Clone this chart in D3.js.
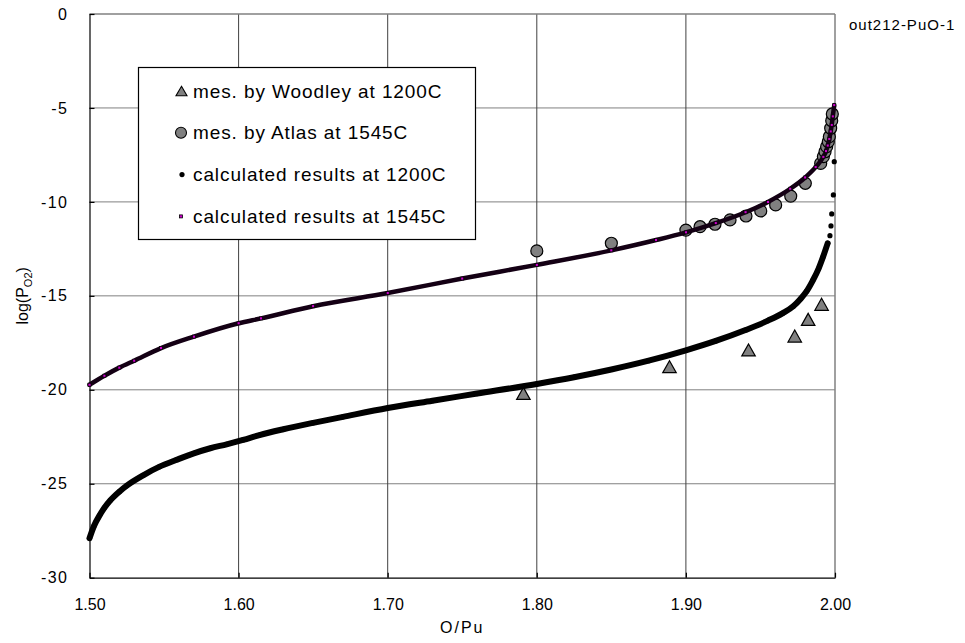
<!DOCTYPE html>
<html>
<head>
<meta charset="utf-8">
<script src="https://cdn.jsdelivr.net/npm/d3@7"></script>
<style>
  html, body { margin: 0; padding: 0; background: #fff; }
  svg { display: block; font-family: Arial, "Liberation Sans", sans-serif; }
</style>
</head>
<body>
<svg id="chart" width="965" height="643"></svg>
<script>
// Axis ticks
const xTicks = [1.50, 1.60, 1.70, 1.80, 1.90, 2.00];
const yTicks = [0, -5, -10, -15, -20, -25, -30];

// Measurements: [O/Pu, log(PO2)]
const woodley1200 = [
  [1.791, -20.19], [1.889, -18.77], [1.942, -17.88],
  [1.973, -17.14], [1.982, -16.25], [1.991, -15.45]
];
const atlas1545 = [
  [1.800, -12.61], [1.850, -12.20], [1.900, -11.50], [1.9095, -11.32],
  [1.9195, -11.19], [1.9296, -10.96], [1.9403, -10.75], [1.9502, -10.48],
  [1.9602, -10.16], [1.9703, -9.69], [1.9801, -9.01], [1.9904, -7.95],
  [1.9922, -7.59], [1.9933, -7.33], [1.9944, -7.06], [1.9955, -6.80],
  [1.9962, -6.53], [1.9971, -6.08], [1.9978, -5.68], [1.9982, -5.32]
];

// Calculated results
const calc1200 = [
  [1.500, -27.90], [1.503, -27.25], [1.507, -26.65], [1.510, -26.28],
  [1.514, -25.88], [1.520, -25.42], [1.525, -25.10], [1.536, -24.55],
  [1.547, -24.09], [1.558, -23.74], [1.570, -23.38], [1.581, -23.11],
  [1.592, -22.90], [1.603, -22.67], [1.614, -22.41], [1.630, -22.10],
  [1.650, -21.76], [1.670, -21.44], [1.700, -20.97], [1.730, -20.58],
  [1.760, -20.20], [1.800, -19.69], [1.825, -19.33], [1.850, -18.92],
  [1.875, -18.45], [1.900, -17.90], [1.920, -17.40], [1.940, -16.82],
  [1.955, -16.32], [1.965, -15.92], [1.972, -15.55], [1.977, -15.15],
  [1.981, -14.75], [1.985, -14.20], [1.989, -13.55], [1.992, -12.92],
  [1.9951, -12.20], [1.9966, -11.80], [1.9973, -11.28], [1.9978, -10.64],
  [1.9989, -9.63], [1.9995, -7.86]
];
const calc1545 = [
  [1.500, -19.73], [1.510, -19.25], [1.520, -18.82], [1.530, -18.45],
  [1.548, -17.78], [1.570, -17.17], [1.600, -16.46], [1.615, -16.20],
  [1.650, -15.55], [1.700, -14.85], [1.750, -14.08], [1.800, -13.35],
  [1.850, -12.58], [1.880, -12.03], [1.900, -11.62], [1.920, -11.13],
  [1.940, -10.55], [1.955, -10.00], [1.970, -9.30], [1.980, -8.70],
  [1.987, -8.15], [1.9922, -7.60], [1.994, -7.30], [1.9951, -7.00],
  [1.9962, -6.65], [1.9971, -6.25], [1.9978, -5.90], [1.9985, -5.45],
  [1.9995, -4.85]
];

const legendItems = [
  { label: "mes. by Woodley at 1200C", kind: "triangle" },
  { label: "mes. by Atlas at 1545C", kind: "circle" },
  { label: "calculated results at 1200C", kind: "dot" },
  { label: "calculated results at 1545C", kind: "square" }
];

const svg = d3.select("#chart");
const plotLeft = 89.5, plotRight = 835, plotTop = 14, plotBottom = 577.7;

const x = d3.scaleLinear().domain([1.5, 2.0]).range([plotLeft, plotRight]);
const y = d3.scaleLinear().domain([0, -30]).range([plotTop, plotBottom]);

// Grid lines
const grid = svg.append("g");
grid.selectAll("line.h")
  .data(yTicks.filter(v => v !== 0 && v !== -30))
  .join("line")
  .attr("x1", plotLeft).attr("x2", plotRight)
  .attr("y1", d => y(d)).attr("y2", d => y(d))
  .attr("stroke", "#808080").attr("stroke-width", 1);
grid.selectAll("line.v")
  .data(xTicks.slice(1, -1))
  .join("line")
  .attr("x1", d => x(d)).attr("x2", d => x(d))
  .attr("y1", plotTop).attr("y2", plotBottom)
  .attr("stroke", "#404040").attr("stroke-width", 1);

// Plot frame: top and right in gray
svg.append("line").attr("x1", plotLeft).attr("x2", plotRight).attr("y1", plotTop).attr("y2", plotTop)
  .attr("stroke", "#808080").attr("stroke-width", 1.5);
svg.append("line").attr("x1", plotRight).attr("x2", plotRight).attr("y1", plotTop).attr("y2", plotBottom)
  .attr("stroke", "#808080").attr("stroke-width", 1.5);

// Axes
const yAxis = d3.axisLeft(y).tickValues(yTicks).tickFormat(d => String(d))
  .tickSizeInner(-5).tickSizeOuter(0).tickPadding(21);
const xAxis = d3.axisBottom(x).tickValues(xTicks).tickFormat(d3.format(".2f"))
  .tickSizeInner(-5).tickSizeOuter(0).tickPadding(21);

const gy = svg.append("g").attr("transform", `translate(${plotLeft},0)`).call(yAxis);
const gx = svg.append("g").attr("transform", `translate(0,${plotBottom})`).call(xAxis);
[gx, gy].forEach(g => {
  g.select(".domain").attr("stroke", "#000").attr("stroke-width", 1.2);
  g.selectAll(".tick line").attr("stroke", "#000").attr("stroke-width", 1.2);
  g.selectAll(".tick text").attr("fill", "#000").attr("font-size", 16)
    .attr("font-family", "Arial, 'Liberation Sans', sans-serif");
});
gy.selectAll(".tick text").attr("letter-spacing", 1.5);

// Axis titles
svg.append("text")
  .attr("x", (plotLeft + plotRight) / 2).attr("y", 633)
  .attr("text-anchor", "middle").attr("font-size", 16).attr("letter-spacing", 2)
  .text("O/Pu");

const yTitle = svg.append("text")
  .attr("transform", `translate(28,${(plotTop + plotBottom) / 2}) rotate(-90)`)
  .attr("text-anchor", "middle").attr("font-size", 16);
yTitle.append("tspan").text("log(P");
yTitle.append("tspan").attr("font-size", 11).attr("dy", 4).text("O2");
yTitle.append("tspan").attr("dy", -4).text(")");

svg.append("text")
  .attr("x", 849).attr("y", 29.5)
  .attr("font-size", 15).attr("letter-spacing", 1)
  .text("out212-PuO-1");

// Marker shapes
function triPath(w, h) {
  return `M0,${-h / 2}L${w / 2},${h / 2}L${-w / 2},${h / 2}Z`;
}

// Woodley measurements
svg.append("g").selectAll("path")
  .data(woodley1200)
  .join("path")
  .attr("transform", d => `translate(${x(d[0])},${y(d[1])})`)
  .attr("d", triPath(13.5, 12))
  .attr("fill", "#808080").attr("stroke", "#000").attr("stroke-width", 1.2);

// Atlas measurements
svg.append("g").selectAll("circle")
  .data(atlas1545)
  .join("circle")
  .attr("cx", d => x(d[0])).attr("cy", d => y(d[1])).attr("r", 6)
  .attr("fill", "#808080").attr("stroke", "#000").attr("stroke-width", 1.2);

// Calculated 1200C: dense band of dots, isolated dots at the steep end
const line = d3.line().x(d => x(d[0])).y(d => y(d[1])).curve(d3.curveMonotoneX);
const bandEnd1200 = 1.996;
svg.append("path")
  .datum(calc1200.filter(d => d[0] <= bandEnd1200))
  .attr("d", line)
  .attr("fill", "none").attr("stroke", "#000").attr("stroke-width", 6)
  .attr("stroke-linecap", "round").attr("stroke-linejoin", "round");
svg.append("g").selectAll("circle")
  .data(calc1200)
  .join("circle")
  .attr("cx", d => x(d[0])).attr("cy", d => y(d[1])).attr("r", 2.6)
  .attr("fill", "#000");

// Calculated 1545C: dark band of small magenta squares
svg.append("path")
  .datum(calc1545)
  .attr("d", line)
  .attr("fill", "none").attr("stroke", "#140014").attr("stroke-width", 4.5)
  .attr("stroke-linecap", "round").attr("stroke-linejoin", "round");
svg.append("g").selectAll("rect")
  .data(calc1545)
  .join("rect")
  .attr("x", d => x(d[0]) - 1.5).attr("y", d => y(d[1]) - 1.5)
  .attr("width", 3).attr("height", 3)
  .attr("fill", "#cc00cc").attr("stroke", "#000").attr("stroke-width", 0.8);

// Legend
const lg = svg.append("g");
lg.append("rect")
  .attr("x", 138.5).attr("y", 67.5).attr("width", 337).attr("height", 172)
  .attr("fill", "#fff").attr("stroke", "#000").attr("stroke-width", 1.2);
const rows = lg.selectAll("g.row")
  .data(legendItems)
  .join("g")
  .attr("transform", (d, i) => `translate(0,${91 + i * 41.8})`);
rows.append("text")
  .attr("x", 193).attr("y", 0).attr("dy", "0.35em")
  .attr("font-size", 19).attr("letter-spacing", 0.9)
  .text(d => d.label);
rows.each(function (d) {
  const g = d3.select(this);
  if (d.kind === "triangle") {
    g.append("path").attr("transform", "translate(181.5,0)")
      .attr("d", triPath(11, 9.5))
      .attr("fill", "#808080").attr("stroke", "#000").attr("stroke-width", 1.1);
  } else if (d.kind === "circle") {
    g.append("circle").attr("cx", 181).attr("cy", 0).attr("r", 5.5)
      .attr("fill", "#808080").attr("stroke", "#000").attr("stroke-width", 1.1);
  } else if (d.kind === "dot") {
    g.append("circle").attr("cx", 182).attr("cy", 0).attr("r", 2.6).attr("fill", "#000");
  } else {
    g.append("rect").attr("x", 179.5).attr("y", -1.5).attr("width", 3).attr("height", 3)
      .attr("fill", "#cc00cc").attr("stroke", "#000").attr("stroke-width", 0.8);
  }
});
</script>
</body>
</html>
